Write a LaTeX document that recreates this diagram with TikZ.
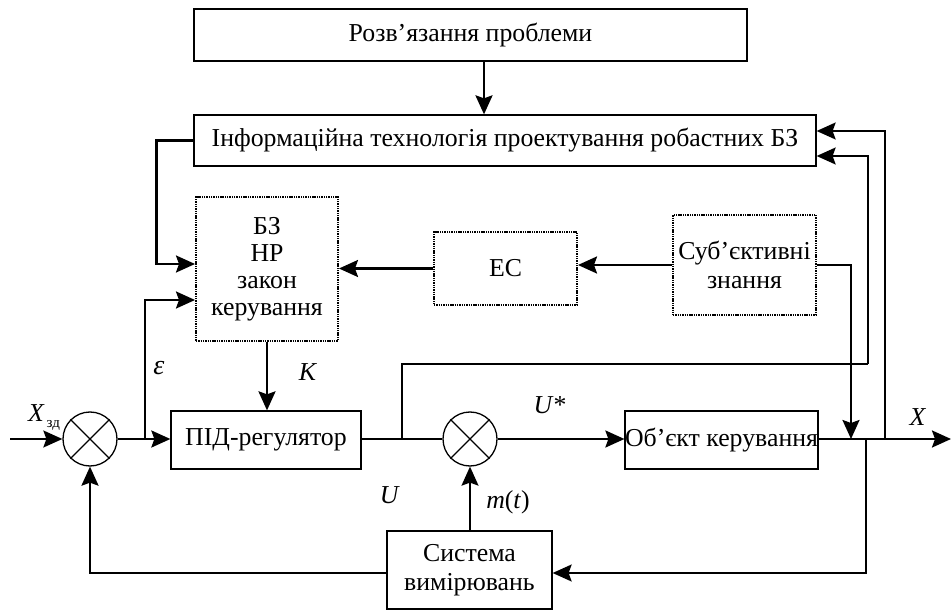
\documentclass[tikz,border=0pt]{standalone}
\usepackage{fontspec}
\setmainfont{Liberation Serif}
\usetikzlibrary{arrows.meta,calc}
\begin{document}
\begin{tikzpicture}[x=1pt,y=-1pt,
  font=\fontsize{25.8}{29}\selectfont,
  box/.style={draw,line width=1.3pt,inner sep=0pt,minimum width=#1},
  dbox/.style={draw,line width=2pt,dash pattern=on 1.4pt off 0.9pt,inner sep=0pt,align=center},
  sumc/.style={draw,circle,line width=1.3pt,minimum size=54pt,inner sep=0pt},
  arr/.style={line width=2.4pt,-{Stealth[length=19pt,width=17pt,inset=3pt]}},
  arrt/.style={line width=1.6pt,-{Stealth[length=19pt,width=17pt,inset=3pt]}},
  thk/.style={line width=2.4pt},
  thn/.style={line width=1.5pt},
  lbl/.style={inner sep=0pt}
]
\useasboundingbox (0,0) rectangle (951,612);
\fill[white] (0,0) rectangle (951,612);
% blocks
\node[box=553pt,minimum height=52pt] (top) at (470.5,35) {Розв’язання проблеми};
\node[box=622pt,minimum height=51pt] (info) at (505,140.5) {Інформаційна технологія проектування робастних БЗ};
\node[dbox,minimum width=142pt,minimum height=144pt] (bz) at (267,269) {БЗ\\[-2pt]НР\\[-2pt]закон\\[-2pt]керування};
\node[dbox,minimum width=143pt,minimum height=73pt] (es) at (505.5,268.5) {ЕС};
\node[dbox,minimum width=143pt,minimum height=100pt] (subj) at (744.5,265) {Суб’єктивні\\знання};
\node[box=190pt,minimum height=58pt] (pid) at (266,440) {ПІД-регулятор};
\node[box=191pt,minimum height=58pt] (obj) at (721.5,440) {Об’єкт керування};
\node[box=165pt,minimum height=78pt,align=center] (sys) at (469.5,570) {Система\\вимірювань};
% summing junctions
\node[sumc] (s1) at (90,439) {};
\node[sumc] (s2) at (470,439) {};
\draw[line width=1.3pt] (s1.north east) -- (s1.south west) (s1.north west) -- (s1.south east);
\draw[line width=1.3pt] (s2.north east) -- (s2.south west) (s2.north west) -- (s2.south east);
% coordinates on the main line
\coordinate (xin) at (10,439);
\coordinate (epsb) at (145,439);
\coordinate (ub) at (402,439);
\coordinate (jn) at (851,439);
\coordinate (fb) at (866,439);
\coordinate (xb) at (885,439);
\coordinate (xout) at (951,439);
% connectors
\draw[arr] ([xshift=13.5pt]top.south) -- ([xshift=-21pt]info.north);
\draw[arr] (info.west) -- ++(-37,0) |- ([yshift=5pt]bz.west);
\draw[arr] (epsb) |- ([yshift=-31pt]bz.west);
\draw[arr] (es.west) -- (es.west -| bz.east);
\draw[arr] (subj.west) -- (subj.west -| es.east);
\draw[arr] (subj.east) -| (jn);
\draw[arr] (bz.south) -- (bz.south |- pid.north);
\draw[arrt] (xin) -- (s1.west);
\draw[arr] (s1.east) -- (s1.east -| pid.west);
\draw[thn] (pid.east |- s2.west) -- (s2.west);
\draw[thk] (ub) -- ++(0,-75) -- ++(466,0) coordinate (uc);
\draw[arrt] (uc) |- ([yshift=-15.5pt]info.east);
\draw[arr] (s2.east) -- (s2.east -| obj.west);
\draw[arr] (obj.east |- xout) -- (xout);
\draw[arrt] (xb) |- ([yshift=9.5pt]info.east);
\draw[arrt] (fb) |- ([yshift=-3pt]sys.east);
\draw[arr] ([yshift=-3pt]sys.west) -| (s1.south);
\draw[arrt] (sys.north -| s2.south) -- (s2.south);
% labels
\node[lbl] (lx) at (44,418) {\textit{X}\kern2pt\raisebox{-6pt}{\fontsize{15}{15}\selectfont зд}};
\node[lbl] (leps) at (159,368) {\fontsize{28}{30}\selectfont\textit{ε}};
\node[lbl] (lk) at (308,372) {\textit{K}};
\node[lbl] (lu) at (390,495) {\textit{U}};
\node[lbl] (lus) at (550,405) {\textit{U}*};
\node[lbl] (lm) at (508,502) {\textit{m}(\textit{t})};
\node[lbl] (lxo) at (918,417) {\textit{X}};
\end{tikzpicture}
\end{document}
